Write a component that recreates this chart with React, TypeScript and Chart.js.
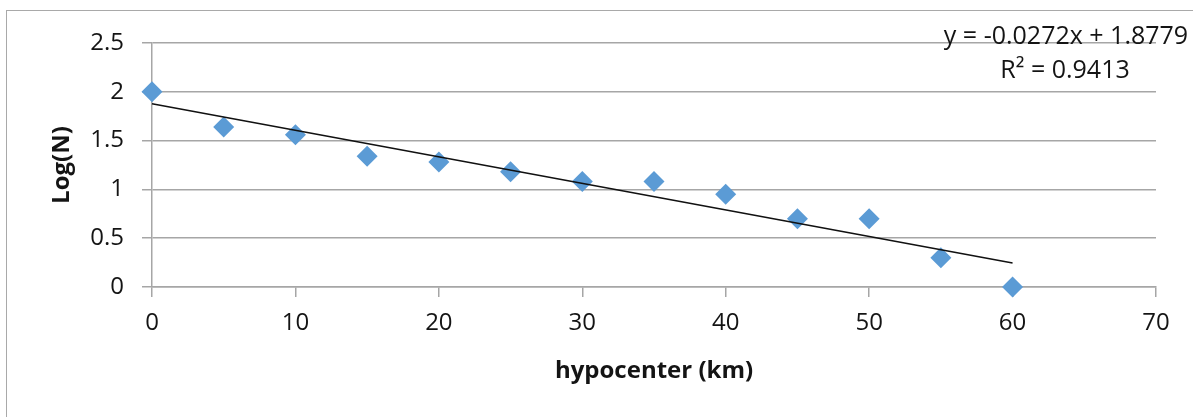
import { useEffect, useRef } from "react";
import { Chart, registerables } from "chart.js";

Chart.register(...registerables);

// Hypocenter depth (km) and log of event count at each depth
const depthKm = [0, 5, 10, 15, 20, 25, 30, 35, 40, 45, 50, 55, 60];
const logN = [2.0, 1.64, 1.56, 1.34, 1.28, 1.18, 1.08, 1.08, 0.95, 0.7, 0.7, 0.3, 0.0];

// Axis ranges / tick steps
const xRange = [0, 70];
const xStep = 10;
const yRange = [0, 2.5];
const yStep = 0.5;

// Linear trend line fitted to the points
const trendSlope = -0.0272;
const trendIntercept = 1.8779;
const trendR2 = 0.9413;
const trendSpan = [0, 60];

const W = 1193;
const H = 417;
const FONT = "'Open Sans', 'DejaVu Sans', sans-serif";
const TEXT = "#141414";
const GRID = "#a6a6a6";

const fmt = (v: number) => String(v);

const framePlugin = {
  id: "frameAndEquation",
  beforeDraw(chart: Chart) {
    const { ctx } = chart;
    ctx.save();
    ctx.fillStyle = "#ffffff";
    ctx.fillRect(0, 0, chart.width, chart.height);
    ctx.strokeStyle = "#a9a9a9";
    ctx.lineWidth = 1;
    ctx.strokeRect(6.5, 10.5, chart.width + 20, chart.height + 20);
    ctx.restore();
  },
  afterDraw(chart: Chart) {
    const { ctx } = chart;
    const sign = trendIntercept >= 0 ? "+" : "-";
    const eq = `y = ${trendSlope}x ${sign} ${Math.abs(trendIntercept)}`;
    const r2 = `R² = ${trendR2}`;
    ctx.save();
    ctx.fillStyle = TEXT;
    ctx.font = `25px ${FONT}`;
    ctx.textAlign = "center";
    ctx.textBaseline = "alphabetic";
    ctx.fillText(eq, 1066, 44);
    ctx.fillText(r2, 1065, 78);
    ctx.restore();
  },
};

export default function App() {
  const ref = useRef<HTMLCanvasElement | null>(null);

  useEffect(() => {
    if (!ref.current) return;
    const points = depthKm.map((x, i) => ({ x, y: logN[i] }));
    const trend = trendSpan.map((x) => ({ x, y: trendSlope * x + trendIntercept }));

    const chart = new Chart(ref.current, {
      type: "scatter",
      data: {
        datasets: [
          {
            type: "line",
            label: "trend",
            data: trend,
            borderColor: "#111111",
            borderWidth: 1.6,
            pointRadius: 0,
            fill: false,
            clip: false,
          },
          {
            label: "Log(N)",
            data: points,
            pointStyle: "rectRot",
            pointRadius: 10.5,
            pointBackgroundColor: "#5b9bd5",
            pointBorderColor: "#5b9bd5",
            pointBorderWidth: 0,
            clip: false,
          },
        ],
      },
      options: {
        animation: false,
        responsive: false,
        devicePixelRatio: 1,
        layout: { padding: { left: 0, top: 43, right: W - 1156, bottom: 0 } },
        plugins: {
          legend: { display: false },
          tooltip: { enabled: false },
        },
        scales: {
          x: {
            type: "linear",
            min: xRange[0],
            max: xRange[1],
            ticks: {
              stepSize: xStep,
              callback: (v) => fmt(Number(v)),
              color: TEXT,
              font: { family: FONT, size: 24 },
              padding: 12,
              maxRotation: 0,
            },
            grid: {
              drawOnChartArea: false,
              drawTicks: true,
              tickLength: 10,
              color: GRID,
              lineWidth: 1.5,
            },
            border: { display: true, color: GRID, width: 1.5 },
            title: {
              display: true,
              text: "hypocenter (km)",
              color: TEXT,
              font: { family: FONT, size: 24, weight: "bold" },
              padding: { top: 0, bottom: 31 },
            },
            afterFit: (s) => {
              s.height = H - 287;
            },
          },
          y: {
            type: "linear",
            min: yRange[0],
            max: yRange[1],
            ticks: {
              stepSize: yStep,
              callback: (v) => fmt(Number(v)),
              color: TEXT,
              font: { family: FONT, size: 24 },
              padding: 18,
            },
            grid: {
              drawOnChartArea: true,
              drawTicks: true,
              tickLength: 10,
              color: GRID,
              lineWidth: 1.5,
            },
            border: { display: true, color: GRID, width: 1.5 },
            title: {
              display: true,
              text: "Log(N)",
              color: TEXT,
              font: { family: FONT, size: 24, weight: "bold" },
              padding: { top: 48, bottom: 0 },
            },
            afterFit: (s) => {
              s.width = 152;
            },
          },
        },
      },
      plugins: [framePlugin],
    });
    return () => chart.destroy();
  }, []);

  return (
    <div style={{ position: "fixed", left: 0, top: 0, width: W, height: H }}>
      <canvas ref={ref} width={W} height={H} style={{ display: "block" }} />
    </div>
  );
}
